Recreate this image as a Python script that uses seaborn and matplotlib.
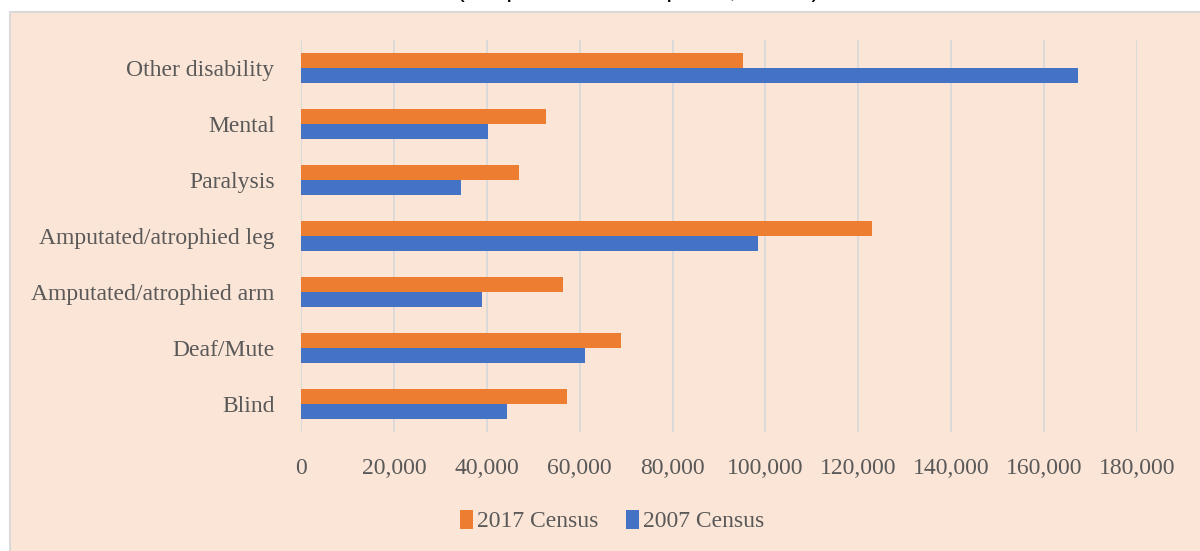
import matplotlib
matplotlib.use("Agg")
import matplotlib.pyplot as plt
from matplotlib.patches import Rectangle
import seaborn as sns
import pandas as pd

# Persons with disabilities by type, 2007 vs 2017 census
categories = ["Other disability", "Mental", "Paralysis", "Amputated/atrophied leg",
              "Amputated/atrophied arm", "Deaf/Mute", "Blind"]
census_2017 = [95200, 52800, 46900, 123000, 56400, 68900, 57300]
census_2007 = [167200, 40300, 34500, 98400, 39000, 61200, 44400]
series_names = ["2017 Census", "2007 Census"]
x_ticks = [0, 20000, 40000, 60000, 80000, 100000, 120000, 140000, 160000, 180000]

df = pd.DataFrame({
    "Disability": categories * 2,
    "Persons": census_2017 + census_2007,
    "Census": [series_names[0]] * len(categories) + [series_names[1]] * len(categories),
})

sns.set_theme(style="white")
plt.rcParams["font.family"] = ["Liberation Serif", "DejaVu Serif"]

BG = "#FBE5D6"
GRID = "#D9D9D9"
TXT = "#595959"

fig = plt.figure(figsize=(12, 5.51), dpi=100)
fig.patch.set_facecolor("white")

# Chart area panel with light border
panel = Rectangle((10 / 1200, -0.05), 1.2, 1 - 12 / 551 + 0.05,
                  transform=fig.transFigure, facecolor=BG, edgecolor=GRID,
                  linewidth=1.5, zorder=-10)
fig.patches.append(panel)

# Line of body text running into the top of the figure
fig.text(820 / 1200, 1 + 3 / 551, "more prevalent in rural areas relative to urban areas (Graph 13 and Graph 14, annex)",
         ha="right", va="baseline", fontsize=18, family=["Liberation Sans", "DejaVu Sans"],
         color="black")

ax = fig.add_axes([301 / 1200, 1 - 432 / 551, (1137 - 301) / 1200, (432 - 40) / 551])
ax.set_facecolor("none")

sns.barplot(data=df, y="Disability", x="Persons", hue="Census", order=categories,
            hue_order=series_names, palette=["#ED7D31", "#4472C4"], orient="h",
            width=0.54, gap=0, saturation=1, edgecolor="none", ax=ax, legend=True)

ax.set_xlim(0, 180000)
ax.set_ylim(len(categories) - 0.5, -0.5)
ax.set_xticks(x_ticks)
ax.set_xticklabels(["0" if v == 0 else f"{v:,}" for v in x_ticks])
ax.xaxis.grid(True, color=GRID, linewidth=1.3)
ax.set_axisbelow(True)
for s in ax.spines.values():
    s.set_visible(False)
ax.tick_params(axis="both", length=0, labelsize=17, colors=TXT)
ax.tick_params(axis="x", pad=19)
ax.tick_params(axis="y", pad=19)
ax.set_xlabel("")
ax.set_ylabel("")

handles, labels = ax.get_legend_handles_labels()
ax.get_legend().remove()
fig.legend(handles, labels, loc="center", bbox_to_anchor=(612 / 1200, 1 - 521 / 551),
           ncol=2, frameon=False, fontsize=17, labelcolor=TXT,
           handlelength=0.55, handleheight=0.85, handletextpad=0.15, columnspacing=1.2)

fig.savefig("out.png", dpi=100, facecolor="white")
